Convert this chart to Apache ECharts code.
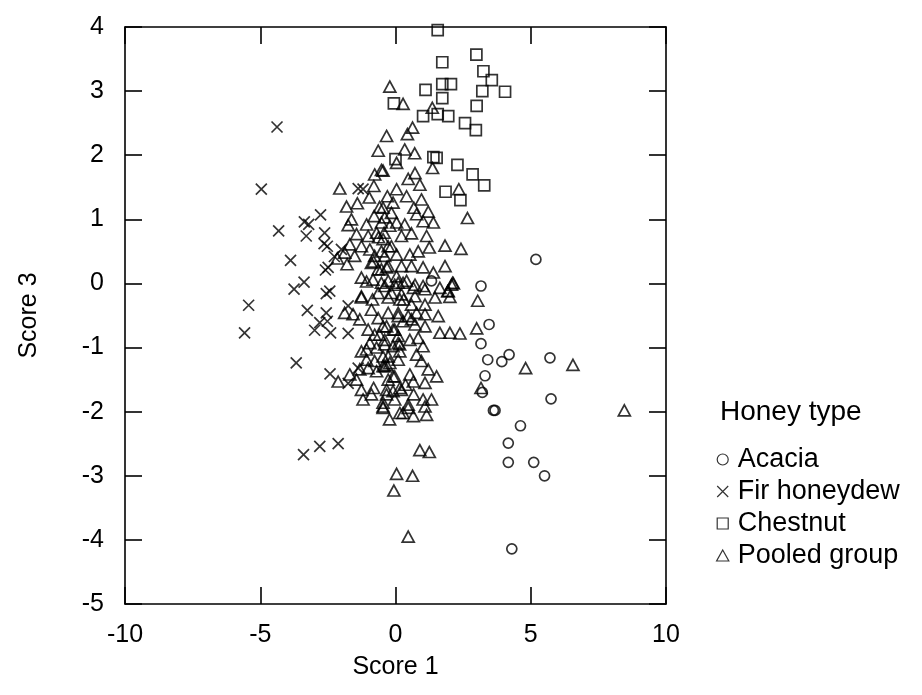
<!DOCTYPE html>
<html>
<head>
<meta charset="utf-8">
<script src="https://cdn.jsdelivr.net/npm/echarts@6/dist/echarts.min.js"></script>
<style>
  html, body { margin: 0; padding: 0; background: #fff; }
  #chart { width: 922px; height: 695px; }
</style>
</head>
<body>
<div id="chart"></div>
<script>
// Discriminant scores (Score 1, Score 3) per honey type
const acacia = [
  [5.19,0.375],[3.16,-0.04],[3.46,-0.64],[3.16,-0.94],[3.41,-1.19],[3.93,-1.22],[4.20,-1.11],
  [5.71,-1.16],[3.31,-1.44],[3.21,-1.70],[3.62,-1.98],[3.68,-1.98],[5.75,-1.80],[4.62,-2.22],
  [4.17,-2.49],[4.17,-2.79],[5.11,-2.79],[5.51,-3.0],[4.30,-4.14],[1.33,0.04]
];
const firHoneydew = [
  [-4.38,2.44],[-4.96,1.47],[-4.32,0.82],[-3.37,0.96],[-3.21,0.92],[-2.77,1.07],[-3.30,0.74],
  [-2.62,0.79],[-2.64,0.62],[-2.52,0.58],[-3.88,0.36],[-2.49,0.25],[-2.59,0.21],[-3.38,0.02],
  [-3.75,-0.09],[-2.43,-0.12],[-2.56,-0.16],[-1.38,1.48],[-1.2,1.47],[-2.0,0.53],[-2.26,0.42],
  [-5.43,-0.34],[-3.26,-0.42],[-2.56,-0.46],[-1.75,-0.35],[-2.52,-0.59],[-2.80,-0.61],[-2.99,-0.73],
  [-2.40,-0.77],[-5.58,-0.77],[-1.75,-0.78],[-3.67,-1.24],[-2.42,-1.41],[-1.75,-1.56],[-1.38,-1.32],
  [-3.40,-2.67],[-2.80,-2.54],[-2.12,-2.50]
];
const chestnut = [
  [1.56,3.95],[2.99,3.57],[1.73,3.45],[3.25,3.31],[3.56,3.17],[1.73,3.11],[2.05,3.11],[1.11,3.02],
  [3.21,3.0],[4.05,2.99],[1.73,2.89],[3.0,2.77],[-0.06,2.81],[1.02,2.61],[1.56,2.64],[1.95,2.61],
  [2.57,2.50],[2.97,2.39],[0,1.94],[1.52,1.96],[1.40,1.97],[2.29,1.85],[2.85,1.70],[3.28,1.53],
  [1.85,1.43],[2.40,1.30]
];
const pooled = [
  // upper part
  [-0.21,3.07],[0.28,2.80],[1.36,2.74],[0.63,2.43],[0.44,2.33],[-0.33,2.30],[0.34,2.09],[0.71,2.03],
  [-0.64,2.07],[0.04,1.88],[1.37,1.80],[0.72,1.72],[0.47,1.63],[0.9,1.54],[-0.46,1.76],[-0.52,1.77],
  [-0.77,1.70],[2.34,1.47],[-2.06,1.48],[-0.80,1.52],[-0.97,1.34],[-0.30,1.36],[-0.09,1.26],
  [-1.41,1.25],[-1.81,1.20],[2.66,1.02],[0.68,1.18],[1.21,1.12],[1.02,0.97],[1.40,0.95],[0.04,0.95],
  [0.34,0.92],[-0.46,1.18],[-0.15,1.10],[-0.40,1.03],[-0.21,0.90],[-0.79,1.05],[-0.52,0.95],
  [-1.75,0.91],[-1.44,0.77],[-1.01,0.74],[-0.70,0.79],[-0.42,0.79],
  [0.04,1.47],[0.41,1.36],[0.96,1.31],[-0.59,1.19],[-1.63,1.0],[0.78,1.08],[-1.07,0.92],[-0.63,0.72],
  // middle band
  [0.22,0.74],[0.59,0.78],[1.15,0.74],[1.83,0.59],[2.42,0.54],[-0.46,0.69],[-0.15,0.58],[-0.40,0.43],
  [0.04,0.45],[0.53,0.45],[0.84,0.50],[1.25,0.56],[-0.27,0.27],[0.04,0.11],[0.41,0.04],[0.72,-0.02],
  [1.09,-0.09],[1.02,0.25],[1.40,0.17],[1.83,0.27],[2.11,0.01],[0.22,0.27],[0.59,0.27],[-0.15,-0.15],
  [0.22,-0.17],[0.72,-0.2],[1.46,-0.22],[-1.69,0.61],[-1.88,0.48],[-2.15,0.39],[-1.79,0.30],
  [-1.51,0.43],[-1.26,0.58],[-0.95,0.53],[-0.77,0.43],[-0.52,0.50],[-0.27,0.58],[-0.89,0.32],
  [-0.64,0.22],[-0.33,0.25],[-0.83,0.06],[-0.52,0.01],[-0.27,0.04],[0.1,0.01],[-1.26,-0.2],
  [-0.64,-0.15],[-0.81,0.34],[-0.52,0.22],[-1.07,0.03],[-1.26,0.09],[-0.85,-0.25],[0.30,-0.25],
  // right-hand side
  [2.14,0],[1.93,-0.12],[2.01,-0.21],[3.04,-0.27],[3.0,-0.70],[2.01,-0.77],[2.38,-0.78],
  [4.81,-1.32],[6.56,-1.27],[3.16,-1.63],[8.46,-1.98],
  // lower part
  [-1.88,-0.46],[-1.57,-0.48],[-1.32,-0.56],[-0.89,-0.41],[-1.26,-0.22],[-0.64,-0.54],[-0.27,-0.46],
  [0.10,-0.51],[-1.01,-0.72],[-0.77,-0.80],[-0.46,-0.67],[-0.09,-0.72],[0.1,-0.82],[-1.26,-1.06],
  [-0.95,-0.93],[-0.70,-1.0],[-0.40,-0.95],[-0.09,-0.98],[-1.07,-1.19],[-0.77,-1.21],[-0.46,-1.14],
  [-0.21,-1.24],[0.1,-1.19],[-1.32,-1.34],[-1.01,-1.32],[-0.70,-1.37],[-0.40,-1.29],[-2.12,-1.53],
  [-1.69,-1.42],[-1.44,-1.5],[-1.26,-1.66],[-0.27,-1.5],[-0.03,-1.45],[-0.33,-1.66],[-0.09,-1.68],
  [0.16,-1.63],[-1.2,-1.81],[-0.89,-1.73],[-0.46,-1.86],[-0.46,-1.94],[-0.03,-1.81],[0.16,-2.02],
  [-0.40,-0.04],[-0.03,-0.02],[0.28,0.01],[0.66,-0.07],[1.02,-0.04],[1.64,-0.07],[1.95,-0.12],
  [2.07,-0.02],[-0.27,-0.22],[0.16,-0.25],[0.59,-0.33],[1.09,-0.33],[0.10,-0.46],[0.47,-0.51],
  [0.78,-0.46],[1.09,-0.48],[1.58,-0.51],[-0.33,-0.67],[-0.03,-0.72],[0.28,-0.59],[0.72,-0.64],
  [1.09,-0.67],[1.64,-0.77],[-0.40,-0.88],[0.10,-0.93],[0.53,-0.88],[0.84,-0.85],[1.02,-0.98],
  [-0.27,-1.14],[0.16,-1.06],[0.96,-1.21],[1.21,-1.34],[1.52,-1.45],[-0.46,-1.29],[-0.09,-1.45],
  [0.53,-1.42],[1.09,-1.55],[0.22,-1.66],[0.66,-1.53],[-0.33,-1.73],[1.02,-1.81],[1.33,-1.81],
  [1.09,-1.92],[0.47,-1.94],[0.28,-2.02],[0.66,-2.07],[1.15,-2.05],[-0.46,-1.92],[0.47,-1.89],
  [0.59,-0.56],[-0.59,-0.80],[0.15,-0.95],[-1.07,-1.03],[0.78,-1.11],[-0.33,-1.27],[0.37,-1.58],
  [-0.81,-1.63],[0.67,-1.73],[-0.22,-2.12],
  // bottom outliers
  [0.9,-2.60],[1.25,-2.63],[0.04,-2.97],[0.63,-3.0],[-0.06,-3.23],[0.47,-3.95]
];

const seriesNames = ['Acacia', 'Fir honeydew', 'Chestnut', 'Pooled group'];
const xTicks = { min: -10, max: 10, step: 5 };
const yTicks = { min: -5, max: 4, step: 1 };

const FONT = "'Liberation Sans', Arial, sans-serif";
const CROSS = 'path://M0,0L10,10M10,0L0,10';
const SQUARE = 'path://M0,0L10,0L10,10L0,10Z';
const TRIANGLE = 'path://M5,0L10,9L0,9Z';
const hollow = { color: 'rgba(0,0,0,0)', borderColor: '#000', borderWidth: 1.7 };

const chart = echarts.init(document.getElementById('chart'), null, { renderer: 'canvas' });

// Frame edge: axis line on the grid border, ticks pointing into the plot
function edgeAxis(base, extra) {
  return Object.assign({
    type: 'value',
    min: base.min, max: base.max, interval: base.step,
    axisLine: { show: true, onZero: false, lineStyle: { color: '#000', width: 1.6 } },
    axisTick: { show: true, inside: true, length: 17, lineStyle: { color: '#000', width: 1.6 } },
    splitLine: { show: false },
    axisLabel: { show: false }
  }, extra);
}

const labelStyle = { show: true, color: '#000', fontSize: 25, fontFamily: FONT };

chart.setOption({
  animation: false,
  backgroundColor: '#fff',
  textStyle: { fontFamily: FONT, color: '#000' },
  title: {
    text: 'Honey type', left: 715, top: 393,
    textStyle: { fontSize: 28, fontWeight: 'normal', color: '#000', fontFamily: FONT }
  },
  legend: {
    orient: 'vertical', left: 711, top: 441,
    itemWidth: 20, itemHeight: 11, itemGap: 5,
    textStyle: { fontSize: 27, color: '#000', fontFamily: FONT },
    data: [
      { name: 'Acacia', icon: 'circle' },
      { name: 'Fir honeydew', icon: CROSS },
      { name: 'Chestnut', icon: SQUARE },
      { name: 'Pooled group', icon: TRIANGLE }
    ],
    itemStyle: { color: 'rgba(0,0,0,0)', borderColor: '#000', borderWidth: 1.2 }
  },
  grid: { left: 125, right: 256, top: 27, bottom: 91 },
  xAxis: [
    edgeAxis(xTicks, {
      position: 'bottom',
      axisLabel: Object.assign({ margin: 19 }, labelStyle),
      name: 'Score 1', nameLocation: 'middle', nameGap: 51,
      nameTextStyle: { fontSize: 25, color: '#000', fontFamily: FONT }
    }),
    edgeAxis(xTicks, { position: 'top' })
  ],
  yAxis: [
    edgeAxis(yTicks, {
      position: 'left',
      axisLabel: Object.assign({ margin: 21 }, labelStyle),
      name: 'Score 3', nameLocation: 'middle', nameGap: 83, nameRotate: 90,
      nameTextStyle: { fontSize: 25, color: '#000', fontFamily: FONT }
    }),
    edgeAxis(yTicks, { position: 'right' })
  ],
  series: [
    { name: seriesNames[0], type: 'scatter', data: acacia, symbol: 'circle', symbolSize: 10, itemStyle: hollow },
    { name: seriesNames[1], type: 'scatter', data: firHoneydew, symbol: CROSS, symbolSize: 11, itemStyle: hollow },
    { name: seriesNames[2], type: 'scatter', data: chestnut, symbol: 'rect', symbolSize: 11, itemStyle: hollow },
    { name: seriesNames[3], type: 'scatter', data: pooled, symbol: 'triangle', symbolSize: [12, 11], itemStyle: hollow }
  ]
});
</script>
</body>
</html>
